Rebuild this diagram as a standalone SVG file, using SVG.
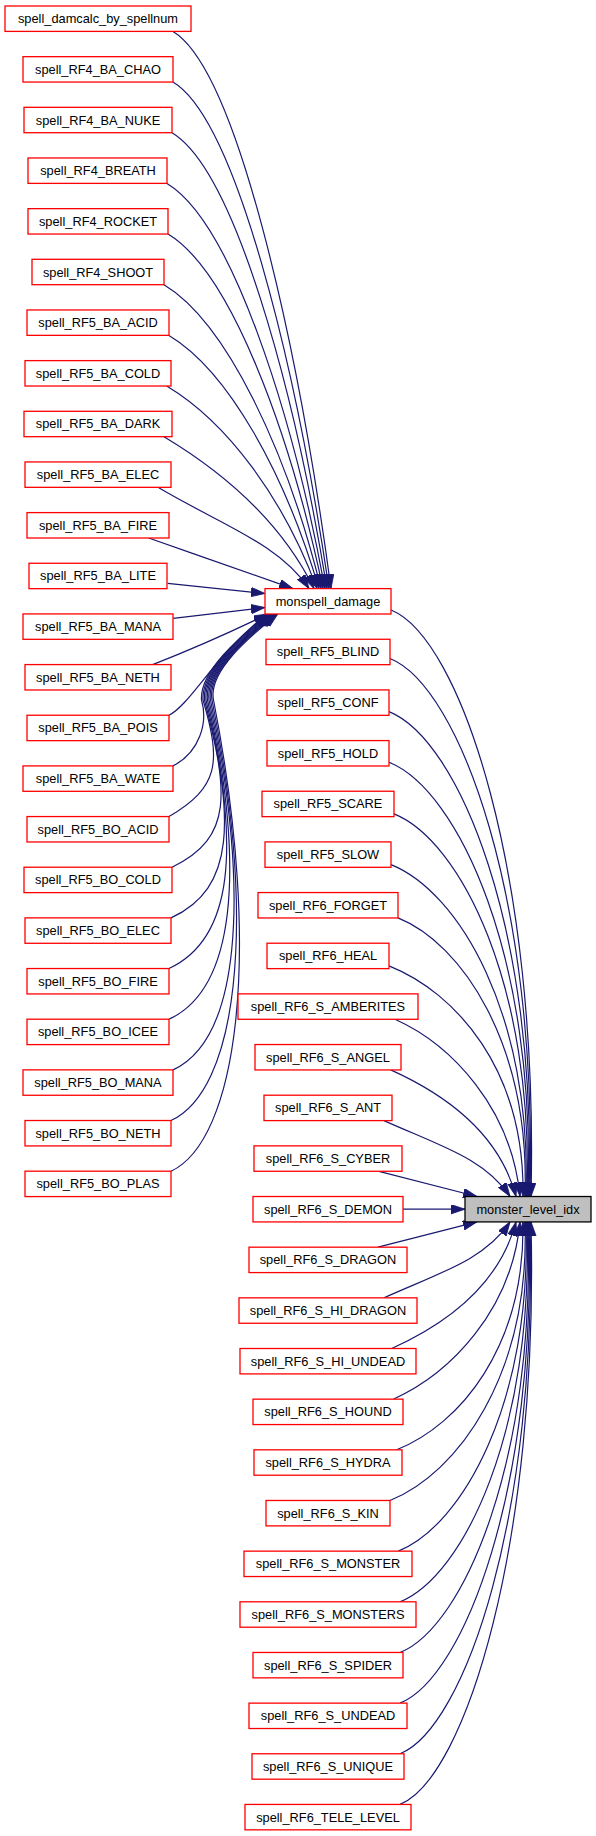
<svg xmlns="http://www.w3.org/2000/svg" width="596" height="1836" viewBox="0 0 596 1836">
<defs>
<style>
.n rect{fill:#ffffff;stroke:#ff0000;stroke-width:1.3}
.n text{font-family:"Liberation Sans",Arial,sans-serif;font-size:12.8px;text-anchor:middle;fill:#000000}
#n_monster_level_idx rect{fill:#bfbfbf;stroke:#000000}
.e path{fill:none;stroke:#191970;stroke-width:1.2;marker-end:url(#a)}
</style>
<marker id="a" markerUnits="userSpaceOnUse" markerWidth="15" markerHeight="10" refX="14" refY="4.7" orient="auto">
<path d="M0,0 L14,4.7 L0,9.4 Z" fill="#191970" stroke="#191970" stroke-width="0.8"/>
</marker>
</defs>
<rect width="596" height="1836" fill="#ffffff"/>
<g id="edges" class="e">
<path d="M173,31.4 C236.2,69.3 297.3,337.9 331,588.6"/>
<path d="M173,82.1 C235.4,119.5 295.2,360.7 329,588.6"/>
<path d="M172,132.7 C234,169.9 293.3,383.4 327,588.6"/>
<path d="M167,183.4 C230.2,221.3 291.2,406.3 325,588.6"/>
<path d="M168,234 C230,271.2 289.3,429 323,588.6"/>
<path d="M164,284.7 C226.8,322.4 287.2,451.8 321,588.6"/>
<path d="M169,335.4 C229,371.4 285.3,474.7 319,588.6"/>
<path d="M166.7,386 C226.8,422.1 283.2,497.4 317,588.6"/>
<path d="M164,436.7 C224,472.7 280.3,520.2 314,588.6"/>
<path d="M158,487.3 C218.4,523.5 278.6,543 309,588.6"/>
<path d="M148.7,538 C196.8,554.9 245,571.8 293,588.6"/>
<path d="M167.7,583.3 L265,593.5"/>
<path d="M173.3,618.3 L265,607.5"/>
<path d="M152.7,664.6 C185,652 235,630 268,614"/>
<path d="M169,715.2 C190,705 215,655 267,614"/>
<path d="M173,765.9 C200,752 208,722 201.5,700 C199.5,672 238.2,638 268.2,614"/>
<path d="M169,816.6 C218,787.4 222,764.1 203,700 C201,672 239.4,638 269.4,614"/>
<path d="M172,867.2 C234,837.2 228,792 204.5,700 C202,672 240.6,638 270.6,614"/>
<path d="M171,917.9 C236,887.9 234,819.8 206,700 C203,672 241.8,638 271.8,614"/>
<path d="M169,968.5 C234,938.5 240,847.7 207.5,700 C204,672 243,638 273,614"/>
<path d="M169,1019.2 C234,989.2 246,875.6 209,700 C205,672 244.2,638 274.2,614"/>
<path d="M173,1069.9 C238,1039.9 252,903.4 210.5,700 C206,672 245.4,638 275.4,614"/>
<path d="M171,1120.5 C236,1090.5 258,931.3 212,700 C207,672 246.6,638 276.6,614"/>
<path d="M171,1171.2 C236,1141.2 264,959.2 213.5,700 C208,672 247.8,638 277.8,614"/>
<path d="M391,610 C461,638 539,873.9 531,1196.5"/>
<path d="M390,658.5 C460,686.5 538,900.6 530,1196.5"/>
<path d="M389,711.6 C459,739.6 537,929.8 529,1196.5"/>
<path d="M389,762.3 C458.5,790.1 536,957.7 528,1196.5"/>
<path d="M394,813.9 C460.5,840.5 534,986.1 527,1196.5"/>
<path d="M391,864.6 C458.5,891.6 532,1014 526,1196.5"/>
<path d="M398,917.9 C461.5,943.3 530,1043.3 525,1196.5"/>
<path d="M389,965.9 C456,992.7 525,1069.7 523,1196.5"/>
<path d="M395,1019.3 C451.3,1044.6 511.5,1107.9 520,1196.5"/>
<path d="M390.7,1069.9 C447.1,1095.3 499.1,1133.2 516,1196.5"/>
<path d="M384,1120.6 C440.7,1146.1 484.7,1158.5 510,1196.5"/>
<path d="M379,1171.3 L477,1196.5"/>
<path d="M403,1209.2 L465,1209.2"/>
<path d="M378,1247.2 L477,1221.9"/>
<path d="M384,1297.8 C440.7,1272.3 484.7,1259.9 510,1221.9"/>
<path d="M391.7,1348.5 C447.6,1323.3 499.1,1285.2 516,1221.9"/>
<path d="M393.3,1399.2 C450.3,1373.5 511.6,1310.6 520,1221.9"/>
<path d="M396.7,1449.8 C459.9,1424.5 525,1347.2 523,1221.9"/>
<path d="M390,1500.5 C457.5,1473.5 530,1375.1 525,1221.9"/>
<path d="M398.3,1551.1 C462.2,1525.6 532,1403 526,1221.9"/>
<path d="M400,1601.8 C463.5,1576.4 534,1430.8 527,1221.9"/>
<path d="M400,1652.5 C464,1626.9 536,1458.7 528,1221.9"/>
<path d="M400,1703.1 C464.5,1677.3 537,1486.6 529,1221.9"/>
<path d="M400,1753.8 C465,1727.8 538,1514.4 530,1221.9"/>
<path d="M400,1804.4 C465.5,1778.2 539,1542.3 531,1221.9"/>
</g>
<g id="n_spell_damcalc_by_spellnum" class="n"><rect x="5" y="6" width="186" height="25.4"/><text x="98" y="23.2">spell_damcalc_by_spellnum</text></g>
<g id="n_spell_RF4_BA_CHAO" class="n"><rect x="23" y="56.66" width="150" height="25.4"/><text x="98" y="73.86">spell_RF4_BA_CHAO</text></g>
<g id="n_spell_RF4_BA_NUKE" class="n"><rect x="24" y="107.32" width="148" height="25.4"/><text x="98" y="124.52">spell_RF4_BA_NUKE</text></g>
<g id="n_spell_RF4_BREATH" class="n"><rect x="28" y="157.98" width="139" height="25.4"/><text x="98" y="175.18">spell_RF4_BREATH</text></g>
<g id="n_spell_RF4_ROCKET" class="n"><rect x="28" y="208.64" width="140" height="25.4"/><text x="98" y="225.84">spell_RF4_ROCKET</text></g>
<g id="n_spell_RF4_SHOOT" class="n"><rect x="32" y="259.3" width="132" height="25.4"/><text x="98" y="276.5">spell_RF4_SHOOT</text></g>
<g id="n_spell_RF5_BA_ACID" class="n"><rect x="27" y="309.96" width="142" height="25.4"/><text x="98" y="327.16">spell_RF5_BA_ACID</text></g>
<g id="n_spell_RF5_BA_COLD" class="n"><rect x="25" y="360.62" width="146" height="25.4"/><text x="98" y="377.82">spell_RF5_BA_COLD</text></g>
<g id="n_spell_RF5_BA_DARK" class="n"><rect x="24" y="411.28" width="148" height="25.4"/><text x="98" y="428.48">spell_RF5_BA_DARK</text></g>
<g id="n_spell_RF5_BA_ELEC" class="n"><rect x="25" y="461.94" width="146" height="25.4"/><text x="98" y="479.14">spell_RF5_BA_ELEC</text></g>
<g id="n_spell_RF5_BA_FIRE" class="n"><rect x="27" y="512.6" width="142" height="25.4"/><text x="98" y="529.8">spell_RF5_BA_FIRE</text></g>
<g id="n_spell_RF5_BA_LITE" class="n"><rect x="29" y="563.26" width="138" height="25.4"/><text x="98" y="580.46">spell_RF5_BA_LITE</text></g>
<g id="n_spell_RF5_BA_MANA" class="n"><rect x="23" y="613.92" width="150" height="25.4"/><text x="98" y="631.12">spell_RF5_BA_MANA</text></g>
<g id="n_spell_RF5_BA_NETH" class="n"><rect x="25" y="664.58" width="146" height="25.4"/><text x="98" y="681.78">spell_RF5_BA_NETH</text></g>
<g id="n_spell_RF5_BA_POIS" class="n"><rect x="27" y="715.24" width="142" height="25.4"/><text x="98" y="732.44">spell_RF5_BA_POIS</text></g>
<g id="n_spell_RF5_BA_WATE" class="n"><rect x="23" y="765.9" width="150" height="25.4"/><text x="98" y="783.1">spell_RF5_BA_WATE</text></g>
<g id="n_spell_RF5_BO_ACID" class="n"><rect x="27" y="816.56" width="142" height="25.4"/><text x="98" y="833.76">spell_RF5_BO_ACID</text></g>
<g id="n_spell_RF5_BO_COLD" class="n"><rect x="24" y="867.22" width="148" height="25.4"/><text x="98" y="884.42">spell_RF5_BO_COLD</text></g>
<g id="n_spell_RF5_BO_ELEC" class="n"><rect x="25" y="917.88" width="146" height="25.4"/><text x="98" y="935.08">spell_RF5_BO_ELEC</text></g>
<g id="n_spell_RF5_BO_FIRE" class="n"><rect x="27" y="968.54" width="142" height="25.4"/><text x="98" y="985.74">spell_RF5_BO_FIRE</text></g>
<g id="n_spell_RF5_BO_ICEE" class="n"><rect x="27" y="1019.2" width="142" height="25.4"/><text x="98" y="1036.4">spell_RF5_BO_ICEE</text></g>
<g id="n_spell_RF5_BO_MANA" class="n"><rect x="23" y="1069.86" width="150" height="25.4"/><text x="98" y="1087.06">spell_RF5_BO_MANA</text></g>
<g id="n_spell_RF5_BO_NETH" class="n"><rect x="25" y="1120.52" width="146" height="25.4"/><text x="98" y="1137.72">spell_RF5_BO_NETH</text></g>
<g id="n_spell_RF5_BO_PLAS" class="n"><rect x="25" y="1171.18" width="146" height="25.4"/><text x="98" y="1188.38">spell_RF5_BO_PLAS</text></g>
<g id="n_monspell_damage" class="n"><rect x="265" y="588.6" width="126" height="25.4"/><text x="328" y="605.8">monspell_damage</text></g>
<g id="n_spell_RF5_BLIND" class="n"><rect x="266" y="639.26" width="124" height="25.4"/><text x="328" y="656.46">spell_RF5_BLIND</text></g>
<g id="n_spell_RF5_CONF" class="n"><rect x="267" y="689.92" width="122" height="25.4"/><text x="328" y="707.12">spell_RF5_CONF</text></g>
<g id="n_spell_RF5_HOLD" class="n"><rect x="267" y="740.58" width="122" height="25.4"/><text x="328" y="757.78">spell_RF5_HOLD</text></g>
<g id="n_spell_RF5_SCARE" class="n"><rect x="262" y="791.24" width="132" height="25.4"/><text x="328" y="808.44">spell_RF5_SCARE</text></g>
<g id="n_spell_RF5_SLOW" class="n"><rect x="265" y="841.9" width="126" height="25.4"/><text x="328" y="859.1">spell_RF5_SLOW</text></g>
<g id="n_spell_RF6_FORGET" class="n"><rect x="258" y="892.56" width="140" height="25.4"/><text x="328" y="909.76">spell_RF6_FORGET</text></g>
<g id="n_spell_RF6_HEAL" class="n"><rect x="267" y="943.22" width="122" height="25.4"/><text x="328" y="960.42">spell_RF6_HEAL</text></g>
<g id="n_spell_RF6_S_AMBERITES" class="n"><rect x="238" y="993.88" width="180" height="25.4"/><text x="328" y="1011.08">spell_RF6_S_AMBERITES</text></g>
<g id="n_spell_RF6_S_ANGEL" class="n"><rect x="255" y="1044.54" width="146" height="25.4"/><text x="328" y="1061.74">spell_RF6_S_ANGEL</text></g>
<g id="n_spell_RF6_S_ANT" class="n"><rect x="264" y="1095.2" width="128" height="25.4"/><text x="328" y="1112.4">spell_RF6_S_ANT</text></g>
<g id="n_spell_RF6_S_CYBER" class="n"><rect x="254" y="1145.86" width="148" height="25.4"/><text x="328" y="1163.06">spell_RF6_S_CYBER</text></g>
<g id="n_spell_RF6_S_DEMON" class="n"><rect x="253" y="1196.52" width="150" height="25.4"/><text x="328" y="1213.72">spell_RF6_S_DEMON</text></g>
<g id="n_spell_RF6_S_DRAGON" class="n"><rect x="249" y="1247.18" width="158" height="25.4"/><text x="328" y="1264.38">spell_RF6_S_DRAGON</text></g>
<g id="n_spell_RF6_S_HI_DRAGON" class="n"><rect x="239" y="1297.84" width="178" height="25.4"/><text x="328" y="1315.04">spell_RF6_S_HI_DRAGON</text></g>
<g id="n_spell_RF6_S_HI_UNDEAD" class="n"><rect x="240" y="1348.5" width="176" height="25.4"/><text x="328" y="1365.7">spell_RF6_S_HI_UNDEAD</text></g>
<g id="n_spell_RF6_S_HOUND" class="n"><rect x="253" y="1399.16" width="150" height="25.4"/><text x="328" y="1416.36">spell_RF6_S_HOUND</text></g>
<g id="n_spell_RF6_S_HYDRA" class="n"><rect x="254" y="1449.82" width="148" height="25.4"/><text x="328" y="1467.02">spell_RF6_S_HYDRA</text></g>
<g id="n_spell_RF6_S_KIN" class="n"><rect x="266" y="1500.48" width="124" height="25.4"/><text x="328" y="1517.68">spell_RF6_S_KIN</text></g>
<g id="n_spell_RF6_S_MONSTER" class="n"><rect x="244" y="1551.14" width="168" height="25.4"/><text x="328" y="1568.34">spell_RF6_S_MONSTER</text></g>
<g id="n_spell_RF6_S_MONSTERS" class="n"><rect x="240" y="1601.8" width="176" height="25.4"/><text x="328" y="1619">spell_RF6_S_MONSTERS</text></g>
<g id="n_spell_RF6_S_SPIDER" class="n"><rect x="253" y="1652.46" width="150" height="25.4"/><text x="328" y="1669.66">spell_RF6_S_SPIDER</text></g>
<g id="n_spell_RF6_S_UNDEAD" class="n"><rect x="249" y="1703.12" width="158" height="25.4"/><text x="328" y="1720.32">spell_RF6_S_UNDEAD</text></g>
<g id="n_spell_RF6_S_UNIQUE" class="n"><rect x="252" y="1753.78" width="152" height="25.4"/><text x="328" y="1770.98">spell_RF6_S_UNIQUE</text></g>
<g id="n_spell_RF6_TELE_LEVEL" class="n"><rect x="245" y="1804.44" width="166" height="25.4"/><text x="328" y="1821.64">spell_RF6_TELE_LEVEL</text></g>
<g id="n_monster_level_idx" class="n"><rect x="465" y="1196.52" width="126" height="25.4"/><text x="528" y="1213.72">monster_level_idx</text></g>
</svg>
